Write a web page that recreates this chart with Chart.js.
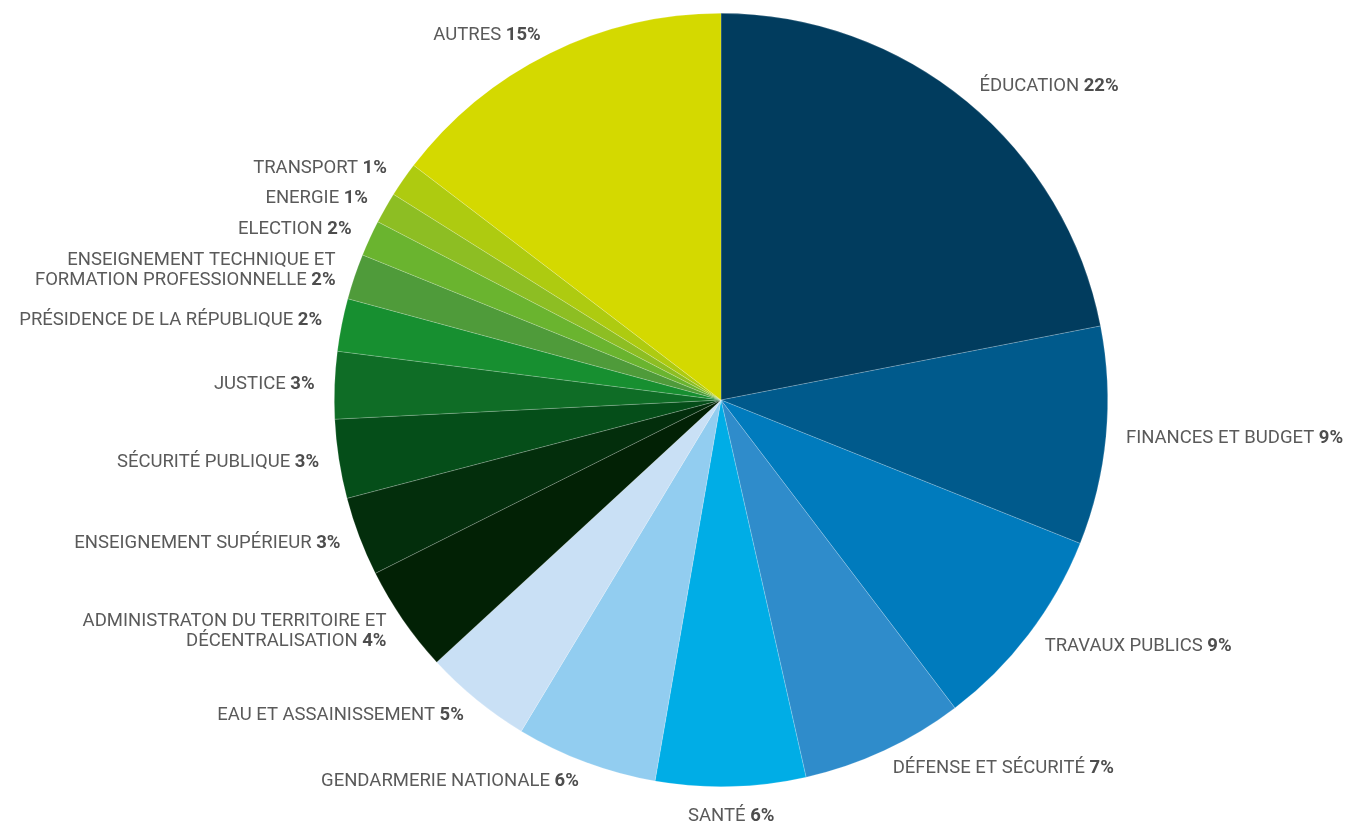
<!DOCTYPE html>
<html>
<head>
<meta charset="utf-8">
<script src="https://cdn.jsdelivr.net/npm/chart.js@4.4.1/dist/chart.umd.min.js"></script>
<style>
  html, body { margin: 0; padding: 0; background: #fff; }
  #wrap { width: 1350px; height: 825px; }
</style>
</head>
<body>
<div id="wrap"><canvas id="myChart" width="1350" height="825"></canvas></div>
<script>
// categories, clockwise from 12 o'clock
const categories = [
  'ÉDUCATION', 'FINANCES ET BUDGET', 'TRAVAUX PUBLICS', 'DÉFENSE ET SÉCURITÉ', 'SANTÉ',
  'GENDARMERIE NATIONALE', 'EAU ET ASSAINISSEMENT',
  'ADMINISTRATON DU TERRITOIRE ET\nDÉCENTRALISATION',
  'ENSEIGNEMENT SUPÉRIEUR', 'SÉCURITÉ PUBLIQUE', 'JUSTICE', 'PRÉSIDENCE DE LA RÉPUBLIQUE',
  'ENSEIGNEMENT TECHNIQUE ET\nFORMATION PROFESSIONNELLE',
  'ELECTION', 'ENERGIE', 'TRANSPORT', 'AUTRES'
];
// slice sizes (percent)
const shares = [21.9, 9.1, 8.6, 6.8, 6.25, 5.9, 4.5, 4.45, 3.3, 3.3, 2.8, 2.2, 1.9, 1.5, 1.3, 1.45, 14.6];
// printed percentages
const pctLabels = ['22%', '9%', '9%', '7%', '6%', '6%', '5%', '4%', '3%', '3%', '3%', '2%', '2%', '2%', '1%', '1%', '15%'];
const sliceColors = [
  '#013c5e', '#005a8c', '#007bbd', '#2f8ccb', '#00ade6', '#92cdf0', '#c9e0f5',
  '#022105', '#032e0c', '#054e19', '#0f6d26', '#178f30', '#4f9b3a', '#6ab42f',
  '#8dbe23', '#aecb10', '#d4d900'
];

const FONT = 'Roboto, "DejaVu Sans", sans-serif';
const FSIZE = 18.5;

const sliceLabels = {
  id: 'sliceLabels',
  afterDraw(chart) {
    const ctx = chart.ctx;
    const meta = chart.getDatasetMeta(0);
    ctx.save();
    ctx.textBaseline = 'middle';
    meta.data.forEach((arc, i) => {
      const mid = (arc.startAngle + arc.endAngle) / 2;
      const d = arc.outerRadius + 20;
      const ax = arc.x + Math.cos(mid) * d;
      let ay = arc.y + Math.sin(mid) * d;
      const c = Math.cos(mid);
      const lines = categories[i].split('\n');
      const lh = 19.5;
      const name = lines[lines.length - 1] + ' ';
      ctx.font = FSIZE + 'px ' + FONT;
      const wName = ctx.measureText(name).width;
      ctx.font = 'bold ' + FSIZE + 'px ' + FONT;
      const wPct = ctx.measureText(pctLabels[i]).width;
      const lastW = wName + wPct;
      let align = c > 0.15 ? 'left' : (c < -0.15 ? 'right' : 'center');
      if (align === 'center') ay += 10;
      const top = ay - (lines.length - 1) * lh / 2;
      ctx.fillStyle = '#5a5a5a';
      ctx.font = FSIZE + 'px ' + FONT;
      for (let k = 0; k < lines.length - 1; k++) {
        ctx.textAlign = align;
        ctx.fillText(lines[k], ax, top + k * lh);
      }
      const y = top + (lines.length - 1) * lh;
      let x0 = ax;
      if (align === 'right') x0 = ax - lastW;
      if (align === 'center') x0 = ax - lastW / 2;
      ctx.textAlign = 'left';
      ctx.fillText(name, x0, y);
      ctx.font = 'bold ' + FSIZE + 'px ' + FONT;
      ctx.fillStyle = '#4d4d4d';
      ctx.fillText(pctLabels[i], x0 + wName, y);
    });
    ctx.restore();
  }
};

const context = document.getElementById('myChart').getContext('2d');
const myChart = new Chart(context, {
  type: 'pie',
  data: {
    labels: categories,
    datasets: [{
      data: shares,
      backgroundColor: sliceColors,
      borderColor: 'rgba(255,255,255,0.3)',
      borderWidth: 0.6
    }]
  },
  options: {
    responsive: false,
    maintainAspectRatio: false,
    animation: false,
    layout: { padding: { left: 334, right: 242, top: 13, bottom: 38 } },
    plugins: {
      legend: { display: false },
      tooltip: { enabled: false }
    }
  },
  plugins: [sliceLabels]
});
</script>
</body>
</html>
